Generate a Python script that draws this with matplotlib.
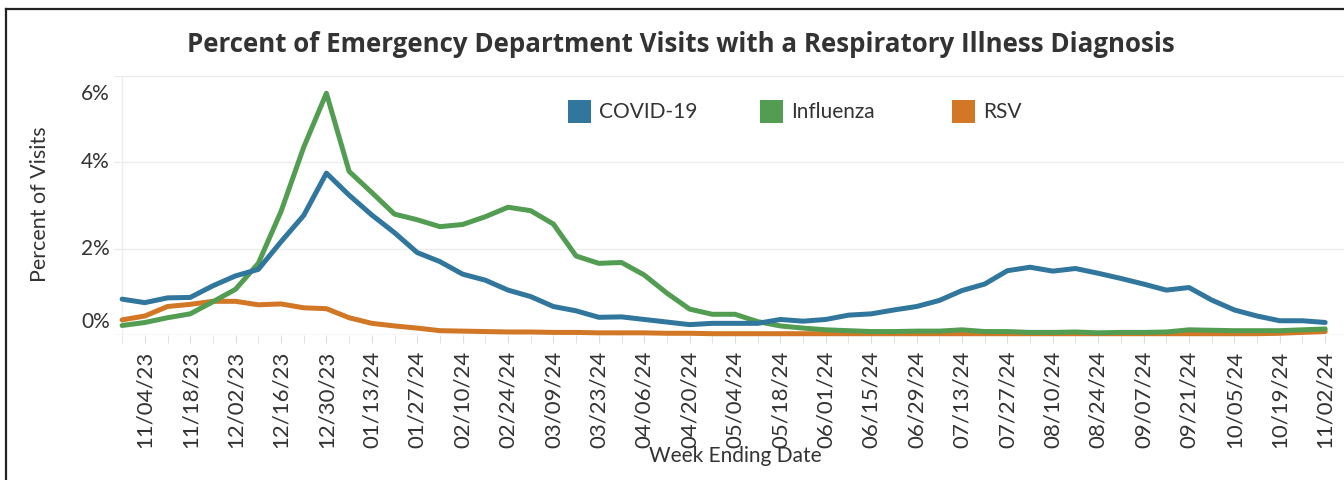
import numpy as np
import pandas as pd
import matplotlib
matplotlib.use("Agg")
import matplotlib.pyplot as plt
import matplotlib.dates as mdates
from matplotlib.lines import Line2D
from matplotlib.patches import Rectangle

plt.rcParams['font.family'] = ['Lato', 'DejaVu Sans']

# weekly values, week ending 10/28/23 .. 11/02/24 (percent of ED visits)
weeks = pd.date_range('2023-10-28', periods=54, freq='7D')

covid = [0.83, 0.75, 0.86, 0.87, 1.14, 1.37, 1.52, 2.16, 2.77, 3.75,
         3.24, 2.78, 2.37, 1.91, 1.70, 1.41, 1.27, 1.04, 0.89, 0.66,
         0.56, 0.41, 0.42, 0.36, 0.30, 0.24, 0.27, 0.27, 0.27, 0.36,
         0.32, 0.36, 0.46, 0.49, 0.58, 0.66, 0.80, 1.03, 1.18, 1.49,
         1.57, 1.48, 1.54, 1.43, 1.31, 1.18, 1.04, 1.10, 0.81, 0.58,
         0.44, 0.33, 0.33, 0.29]
flu = [0.22, 0.29, 0.40, 0.49, 0.77, 1.06, 1.66, 2.86, 4.35, 5.60,
       3.79, 3.30, 2.80, 2.67, 2.51, 2.56, 2.74, 2.96, 2.88, 2.57,
       1.83, 1.66, 1.68, 1.39, 0.97, 0.60, 0.48, 0.48, 0.31, 0.21,
       0.16, 0.12, 0.10, 0.08, 0.08, 0.09, 0.09, 0.12, 0.08, 0.08,
       0.06, 0.06, 0.07, 0.05, 0.06, 0.06, 0.07, 0.12, 0.11, 0.10,
       0.10, 0.10, 0.12, 0.14]
rsv = [0.35, 0.44, 0.66, 0.71, 0.78, 0.78, 0.70, 0.72, 0.63, 0.61,
       0.40, 0.27, 0.21, 0.16, 0.10, 0.09, 0.08, 0.07, 0.07, 0.06,
       0.06, 0.05, 0.05, 0.05, 0.04, 0.04, 0.03, 0.03, 0.03, 0.03,
       0.03, 0.03, 0.03, 0.03, 0.03, 0.03, 0.03, 0.03, 0.03, 0.03,
       0.03, 0.03, 0.03, 0.03, 0.03, 0.03, 0.03, 0.03, 0.03, 0.03,
       0.03, 0.04, 0.06, 0.08]

names = ['COVID-19', 'Influenza', 'RSV']
colors = ['#30769d', '#529d51', '#d17725']
y_ticks = [0, 2, 4, 6]

W, H = 1344, 480
fig = plt.figure(figsize=(W / 100, H / 100), dpi=100)
ax = fig.add_axes([114 / W, 1 - 335 / H, (W - 114) / W, (335 - 76) / H])

# draw order: RSV underneath, then flu, then covid
for vals, c in [(rsv, colors[2]), (flu, colors[1]), (covid, colors[0])]:
    ax.plot(weeks, vals, color=c, lw=3.6, solid_capstyle='round',
            solid_joinstyle='round', clip_on=False, zorder=3)

ax.set_ylim(0, 6)
ax.set_xlim(weeks[0] - pd.Timedelta(days=2.5), weeks[-1] + pd.Timedelta(days=5.8))

for s in ax.spines.values():
    s.set_visible(False)
ax.set_yticks(y_ticks)
ax.set_yticklabels([])
ax.tick_params(axis='y', length=0)
ax.grid(axis='y', color='#ececec', lw=1)
ax.axhline(0, color='#e6e6e6', lw=1, zorder=1)
ax.axvline(weeks[0], color='#eeeeee', lw=1, zorder=1)

# y labels, tableau-style: edge labels pulled inside the axis
offsets = {0: 13, 2: 0, 4: 0, 6: -18}
for v in y_ticks:
    ax.annotate('{}%'.format(v), xy=(0, v), xycoords=('axes fraction', 'data'),
                xytext=(-4, offsets[v]), textcoords='offset pixels',
                ha='right', va='center', fontsize=15, color='#333333')

ax.set_xticks(weeks[1::2])
ax.set_xticklabels([d.strftime('%m/%d/%y') for d in weeks[1::2]],
                   rotation=90, fontsize=16, color='#333333')
ax.set_xticks(weeks, minor=True)
ax.tick_params(axis='x', which='both', length=6, color='#dddddd', pad=5)

fig.text(40 / W, 1 - 204 / H, 'Percent of Visits', rotation=90,
         ha='center', va='center', fontsize=15.5, color='#333333')
fig.text(735 / W, 1 - 456 / H, 'Week Ending Date',
         ha='center', va='center', fontsize=15, color='#333333')
fig.text(681 / W, 1 - 45 / H,
         'Percent of Emergency Department Visits with a Respiratory Illness Diagnosis',
         ha='center', va='center', fontsize=18.6, fontweight='bold',
         family=['Open Sans', 'DejaVu Sans'], color='#333333')

# legend squares
for name, c, x0 in zip(names, colors, [568, 760, 952]):
    fig.add_artist(Rectangle((x0 / W, 1 - 123 / H), 23 / W, 23 / H,
                             transform=fig.transFigure, color=c, lw=0))
    fig.text((x0 + 31) / W, 1 - 112 / H, name, ha='left', va='center',
             fontsize=15, color='#333333')

# dashboard frame
fig.add_artist(Line2D([5.5 / W, 5.5 / W], [0, 1 - 8.5 / H], color='#222222', lw=1.6))
fig.add_artist(Line2D([5.5 / W, 1], [1 - 8.5 / H, 1 - 8.5 / H], color='#222222', lw=1.6))

fig.savefig('out.png', dpi=100)
